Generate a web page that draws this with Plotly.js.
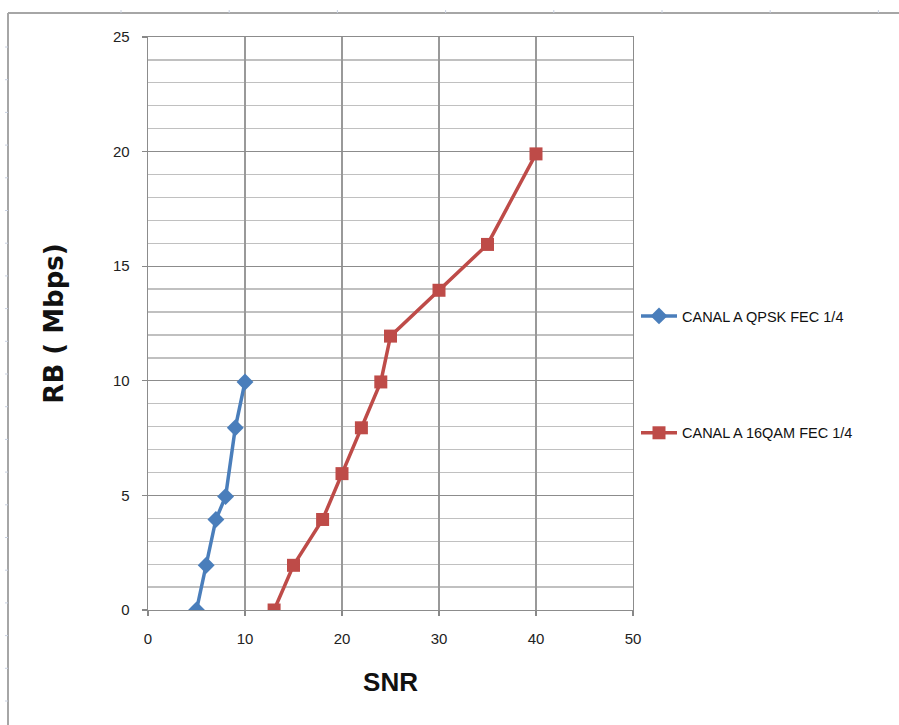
<!DOCTYPE html>
<html>
<head>
<meta charset="utf-8">
<script src="https://cdn.plot.ly/plotly-3.0.1.min.js"></script>
<style>html,body{margin:0;padding:0;background:#fff}#chart{width:899px;height:725px}</style>
</head>
<body>
<div id="chart"></div>
<script>
// Data
const qpskName = "CANAL A QPSK FEC 1/4";
const qpskSNR = [5, 6, 7, 8, 9, 10];
const qpskRB  = [0, 1.95, 3.95, 4.95, 7.95, 9.95];

const qamName = "CANAL A 16QAM FEC 1/4";
const qamSNR = [13, 15, 18, 20, 22, 24, 25, 30, 35, 40];
const qamRB  = [0, 1.95, 3.95, 5.95, 7.95, 9.95, 11.95, 13.95, 15.95, 19.9];

const xTitle = "SNR";
const yTitle = "RB ( Mbps)";

// plot area in pixels
const L = 148, R = 633, T = 37, B = 610, W = 899, H = 725;
const px = v => (v - L) / (R - L);
const py = v => (B - v) / (B - T);

const shapes = [];
// outer sheet frame
shapes.push({type:'line', xref:'paper', yref:'paper', x0:px(8), x1:px(8), y0:py(13), y1:py(725), line:{color:'#a6a6a6', width:2}});
shapes.push({type:'line', xref:'paper', yref:'paper', x0:px(8), x1:px(899), y0:py(13), y1:py(13), line:{color:'#a6a6a6', width:2}});
for (let yy = 47; yy < 725; yy += 32.7) {
  shapes.push({type:'line', xref:'paper', yref:'paper', x0:px(5), x1:px(8), y0:py(yy), y1:py(yy), line:{color:'#c8d0e0', width:1}});
}
for (let xx = 121; xx < 899; xx += 108.2) {
  shapes.push({type:'line', xref:'paper', yref:'paper', x0:px(xx), x1:px(xx), y0:py(10), y1:py(13), line:{color:'#c8d0e0', width:1}});
}

const data = [
  {x: qpskSNR, y: qpskRB, name: qpskName, type:'scatter', mode:'lines+markers',
   legendgroup:'a',
   line:{color:'#4a7ebb', width:3.5},
   marker:{symbol:'diamond', size:13, color:'#4a7ebb'}},
  {x: qamSNR, y: qamRB, name: qamName, type:'scatter', mode:'lines+markers',
   legendgroup:'b',
   line:{color:'#be4b48', width:3.5},
   marker:{symbol:'square', size:13, color:'#be4b48'}}
];

const tickFont = {family:'Liberation Sans, Arial, sans-serif', size:15, color:'#222'};

const layout = {
  width: W, height: H,
  margin: {l: L, r: W - R, t: T, b: H - B, pad: 0},
  paper_bgcolor:'#fff', plot_bgcolor:'#fff',
  showlegend: true,
  legend: {x: px(636), xanchor:'left', y: py(300), yanchor:'top',
           itemwidth: 36,
           font:{family:'Liberation Sans, Arial, sans-serif', size:14.5, color:'#111'},
           tracegroupgap: 95, bgcolor:'rgba(0,0,0,0)'},
  xaxis: {range:[0,50], dtick:10, tick0:0, showgrid:true, gridcolor:'#999', gridwidth:1.3,
          zeroline:false, showline:true, linecolor:'#8c8c8c', linewidth:1.3, mirror:true,
          ticks:'outside', ticklen:5, tickcolor:'#888', tickwidth:1.3,
          ticklabelstandoff: 10, tickfont: tickFont,
          title:{text:xTitle, standoff:26, font:{family:'Liberation Sans, Arial, sans-serif', size:26, color:'#111', weight:'bold'}}},
  yaxis: {range:[0,25], dtick:5, tick0:0, showgrid:true, gridcolor:'#8c8c8c', gridwidth:1.3,
          minor:{dtick:1, showgrid:true, gridcolor:'#c0c0c0', gridwidth:1.3},
          zeroline:false, showline:true, linecolor:'#8c8c8c', linewidth:1.3, mirror:true,
          ticks:'outside', ticklen:5, tickcolor:'#888', tickwidth:1.3,
          ticklabelstandoff: 9, tickfont: tickFont,
          title:{text:yTitle, standoff:42, font:{family:'DejaVu Sans, sans-serif', size:26, color:'#111', weight:'bold'}}},
  shapes: shapes
};

Plotly.newPlot('chart', data, layout, {displayModeBar:false, staticPlot:true});
</script>
</body>
</html>
